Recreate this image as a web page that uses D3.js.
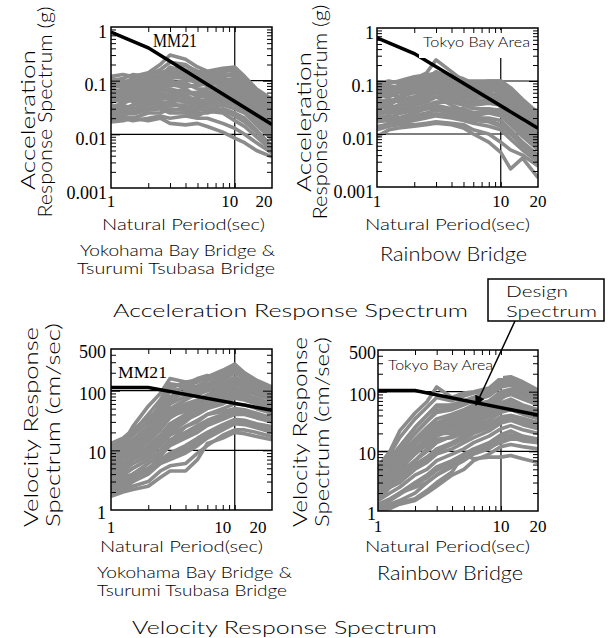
<!DOCTYPE html>
<html>
<head>
<meta charset="utf-8">
<script src="https://cdn.jsdelivr.net/npm/d3@7"></script>
<style>
body { margin: 0; background: #fff; }
</style>
</head>
<body>
<svg id="chart" width="608" height="638"></svg>
<script>
// periods (sec) shared by every recorded spectrum
var periods = [1, 1.25, 1.5, 2, 2.5, 3, 4, 5, 6, 8, 10, 12, 15, 20];

// acceleration response spectra (g), Yokohama Bay / Tsurumi Tsubasa
var accMM21 = [
  [0.12, 0.13, 0.12, 0.14, 0.2, 0.3, 0.25, 0.18, 0.15, 0.17, 0.18, 0.12, 0.07, 0.045],
  [0.1, 0.09, 0.11, 0.13, 0.16, 0.22, 0.2, 0.14, 0.12, 0.15, 0.16, 0.1, 0.06, 0.035],
  [0.08, 0.1, 0.09, 0.1, 0.12, 0.15, 0.13, 0.11, 0.1, 0.12, 0.13, 0.09, 0.055, 0.03],
  [0.07, 0.06, 0.08, 0.09, 0.1, 0.12, 0.11, 0.09, 0.1, 0.11, 0.1, 0.07, 0.045, 0.025],
  [0.06, 0.07, 0.06, 0.08, 0.09, 0.1, 0.08, 0.08, 0.09, 0.09, 0.08, 0.06, 0.04, 0.022],
  [0.05, 0.05, 0.06, 0.06, 0.07, 0.08, 0.09, 0.07, 0.07, 0.08, 0.07, 0.05, 0.035, 0.02],
  [0.045, 0.04, 0.05, 0.05, 0.06, 0.07, 0.06, 0.06, 0.06, 0.065, 0.06, 0.045, 0.03, 0.017],
  [0.04, 0.05, 0.04, 0.045, 0.05, 0.06, 0.07, 0.05, 0.05, 0.055, 0.05, 0.04, 0.027, 0.015],
  [0.035, 0.03, 0.035, 0.04, 0.045, 0.05, 0.05, 0.045, 0.04, 0.045, 0.045, 0.035, 0.022, 0.012],
  [0.03, 0.035, 0.03, 0.035, 0.04, 0.04, 0.045, 0.04, 0.035, 0.04, 0.04, 0.03, 0.02, 0.01],
  [0.025, 0.025, 0.03, 0.03, 0.03, 0.035, 0.035, 0.03, 0.03, 0.035, 0.03, 0.025, 0.015, 0.008],
  [0.02, 0.022, 0.02, 0.025, 0.025, 0.03, 0.028, 0.025, 0.025, 0.03, 0.025, 0.02, 0.012, 0.006],
  [0.018, 0.02, 0.018, 0.02, 0.022, 0.02, 0.022, 0.02, 0.02, 0.016, 0.013, 0.01, 0.007, 0.0045],
  [0.017, 0.018, 0.02, 0.018, 0.02, 0.016, 0.015, 0.016, 0.014, 0.011, 0.0085, 0.007, 0.005, 0.0038],
  [0.09, 0.08, 0.1, 0.11, 0.12, 0.13, 0.16, 0.13, 0.11, 0.14, 0.17, 0.11, 0.065, 0.045],
  [0.055, 0.065, 0.07, 0.07, 0.08, 0.09, 0.1, 0.1, 0.08, 0.1, 0.11, 0.08, 0.05, 0.028],
  [0.11, 0.1, 0.09, 0.1, 0.12, 0.18, 0.14, 0.12, 0.13, 0.13, 0.12, 0.085, 0.05, 0.03],
  [0.028, 0.03, 0.025, 0.03, 0.035, 0.028, 0.03, 0.035, 0.035, 0.04, 0.035, 0.028, 0.018, 0.009],
  [0.065, 0.055, 0.05, 0.055, 0.065, 0.065, 0.055, 0.06, 0.07, 0.07, 0.065, 0.05, 0.032, 0.018],
  [0.04, 0.045, 0.055, 0.06, 0.05, 0.045, 0.04, 0.04, 0.045, 0.05, 0.055, 0.042, 0.025, 0.014],
  [0.023, 0.028, 0.035, 0.04, 0.035, 0.04, 0.03, 0.028, 0.03, 0.028, 0.022, 0.017, 0.011, 0.0055],
  [0.075, 0.08, 0.075, 0.085, 0.1, 0.11, 0.12, 0.1, 0.09, 0.1, 0.09, 0.065, 0.04, 0.02],
  [0.1, 0.11, 0.13, 0.12, 0.14, 0.16, 0.19, 0.15, 0.14, 0.16, 0.15, 0.1, 0.06, 0.038],
  [0.085, 0.09, 0.085, 0.095, 0.11, 0.12, 0.14, 0.12, 0.12, 0.12, 0.14, 0.095, 0.058, 0.032],
  [0.05, 0.06, 0.065, 0.065, 0.075, 0.085, 0.075, 0.085, 0.085, 0.09, 0.085, 0.06, 0.038, 0.024],
  [0.032, 0.038, 0.045, 0.05, 0.055, 0.055, 0.06, 0.055, 0.055, 0.06, 0.052, 0.038, 0.024, 0.013],
  [0.026, 0.032, 0.028, 0.035, 0.045, 0.05, 0.04, 0.035, 0.04, 0.045, 0.04, 0.03, 0.019, 0.011],
  [0.02, 0.025, 0.024, 0.028, 0.03, 0.025, 0.025, 0.022, 0.027, 0.025, 0.018, 0.014, 0.009, 0.005]
];

// acceleration response spectra (g), Rainbow Bridge
var accRainbow = [
  [0.09, 0.1, 0.09, 0.11, 0.14, 0.25, 0.15, 0.1, 0.1, 0.1, 0.1, 0.07, 0.04, 0.025],
  [0.08, 0.07, 0.08, 0.1, 0.12, 0.13, 0.12, 0.09, 0.08, 0.09, 0.095, 0.065, 0.035, 0.02],
  [0.06, 0.07, 0.07, 0.08, 0.1, 0.12, 0.1, 0.08, 0.07, 0.08, 0.08, 0.05, 0.03, 0.018],
  [0.05, 0.06, 0.05, 0.07, 0.08, 0.09, 0.08, 0.07, 0.06, 0.07, 0.06, 0.04, 0.025, 0.015],
  [0.045, 0.04, 0.05, 0.06, 0.07, 0.08, 0.07, 0.06, 0.055, 0.06, 0.05, 0.035, 0.022, 0.012],
  [0.04, 0.045, 0.04, 0.05, 0.06, 0.07, 0.06, 0.05, 0.05, 0.05, 0.045, 0.03, 0.02, 0.01],
  [0.035, 0.03, 0.035, 0.04, 0.05, 0.06, 0.05, 0.045, 0.04, 0.045, 0.04, 0.028, 0.016, 0.009],
  [0.03, 0.035, 0.03, 0.035, 0.04, 0.05, 0.045, 0.04, 0.035, 0.038, 0.035, 0.022, 0.014, 0.007],
  [0.025, 0.025, 0.028, 0.03, 0.035, 0.04, 0.04, 0.035, 0.03, 0.03, 0.028, 0.018, 0.011, 0.006],
  [0.02, 0.022, 0.02, 0.025, 0.03, 0.035, 0.03, 0.03, 0.025, 0.025, 0.022, 0.015, 0.009, 0.005],
  [0.017, 0.018, 0.02, 0.022, 0.025, 0.028, 0.025, 0.022, 0.02, 0.02, 0.018, 0.012, 0.007, 0.004],
  [0.014, 0.015, 0.016, 0.018, 0.02, 0.022, 0.02, 0.018, 0.016, 0.014, 0.012, 0.008, 0.005, 0.003],
  [0.009, 0.012, 0.013, 0.014, 0.015, 0.016, 0.015, 0.013, 0.01, 0.007, 0.0045, 0.0022, 0.0035, 0.0015],
  [0.065, 0.06, 0.07, 0.09, 0.1, 0.11, 0.09, 0.085, 0.08, 0.085, 0.09, 0.06, 0.035, 0.02],
  [0.022, 0.028, 0.03, 0.035, 0.045, 0.05, 0.035, 0.028, 0.022, 0.018, 0.015, 0.01, 0.006, 0.0035],
  [0.055, 0.05, 0.06, 0.065, 0.075, 0.1, 0.085, 0.065, 0.06, 0.065, 0.07, 0.045, 0.028, 0.016],
  [0.028, 0.025, 0.025, 0.03, 0.03, 0.03, 0.028, 0.025, 0.022, 0.025, 0.03, 0.02, 0.012, 0.0065],
  [0.04, 0.035, 0.045, 0.045, 0.055, 0.065, 0.055, 0.055, 0.045, 0.04, 0.038, 0.025, 0.015, 0.008],
  [0.012, 0.014, 0.015, 0.015, 0.016, 0.017, 0.016, 0.015, 0.012, 0.01, 0.007, 0.005, 0.004, 0.0025],
  [0.07, 0.08, 0.075, 0.09, 0.11, 0.15, 0.11, 0.095, 0.09, 0.1, 0.1, 0.075, 0.045, 0.025],
  [0.075, 0.09, 0.1, 0.12, 0.13, 0.14, 0.13, 0.11, 0.09, 0.09, 0.1, 0.065, 0.04, 0.022],
  [0.05, 0.055, 0.065, 0.075, 0.09, 0.1, 0.095, 0.075, 0.07, 0.075, 0.075, 0.05, 0.03, 0.017],
  [0.032, 0.04, 0.045, 0.05, 0.065, 0.075, 0.065, 0.055, 0.05, 0.055, 0.055, 0.038, 0.024, 0.013],
  [0.018, 0.02, 0.024, 0.028, 0.03, 0.032, 0.03, 0.028, 0.025, 0.028, 0.025, 0.017, 0.01, 0.0055],
  [0.013, 0.016, 0.018, 0.02, 0.022, 0.024, 0.022, 0.02, 0.018, 0.017, 0.014, 0.01, 0.0065, 0.0038],
  [0.024, 0.03, 0.035, 0.042, 0.05, 0.058, 0.05, 0.042, 0.038, 0.04, 0.036, 0.024, 0.015, 0.0085]
];

// velocity response spectra (cm/sec), Yokohama Bay / Tsurumi Tsubasa
var velMM21 = [
  [12, 15, 20, 40, 70, 130, 120, 140, 170, 220, 280, 200, 150, 115],
  [10, 12, 18, 30, 55, 100, 110, 120, 150, 190, 230, 180, 130, 100],
  [8, 11, 15, 25, 45, 80, 90, 100, 120, 160, 200, 160, 120, 95],
  [7, 9, 12, 20, 35, 60, 80, 85, 100, 130, 170, 140, 110, 90],
  [6, 8, 10, 17, 28, 45, 60, 70, 85, 110, 140, 120, 100, 80],
  [5, 7, 9, 14, 22, 35, 50, 60, 70, 90, 110, 100, 85, 70],
  [4.5, 6, 8, 12, 18, 28, 40, 50, 60, 75, 90, 85, 75, 60],
  [4, 5, 7, 10, 15, 22, 32, 40, 50, 60, 75, 70, 60, 50],
  [3.5, 4.5, 6, 8, 12, 18, 25, 32, 40, 50, 60, 58, 50, 42],
  [3, 4, 5, 7, 10, 15, 20, 26, 32, 40, 50, 48, 42, 35],
  [2.5, 3.5, 4, 6, 8, 12, 16, 20, 26, 33, 40, 40, 35, 30],
  [2.2, 3, 3.5, 5, 7, 9, 12, 16, 20, 27, 33, 32, 28, 25],
  [2, 2.5, 3, 4, 6, 7, 9, 12, 16, 22, 28, 27, 24, 20],
  [1.8, 2.2, 2.5, 3, 4.5, 5.5, 6, 9, 12, 18, 22, 22, 20, 17],
  [1.7, 2, 2.2, 2.5, 3.5, 4.5, 4.5, 7, 13, 16, 20, 19, 17, 15],
  [13, 16, 22, 35, 50, 75, 130, 160, 180, 150, 200, 170, 140, 110],
  [9, 13, 25, 55, 90, 160, 140, 110, 100, 120, 150, 120, 100, 85],
  [5, 6, 7, 9, 13, 20, 30, 45, 60, 80, 100, 90, 70, 55],
  [3, 3, 4, 5, 6, 8, 10, 14, 18, 24, 30, 30, 25, 20],
  [6, 9, 14, 22, 30, 38, 45, 55, 70, 100, 130, 110, 90, 75],
  [2.5, 2.2, 3, 4.5, 8, 14, 25, 30, 40, 45, 50, 45, 38, 30],
  [11, 10, 12, 18, 30, 50, 70, 90, 110, 140, 160, 140, 115, 95],
  [11, 14, 18, 30, 60, 110, 140, 150, 160, 200, 250, 190, 140, 108],
  [7.5, 10, 14, 25, 40, 65, 100, 110, 130, 170, 210, 160, 125, 98],
  [5.5, 7.5, 11, 16, 25, 40, 55, 65, 80, 100, 125, 115, 95, 78],
  [4, 5.5, 8, 11, 16, 25, 35, 45, 55, 68, 80, 75, 65, 55],
  [2.8, 3.8, 5, 7, 9, 13, 18, 23, 28, 36, 45, 44, 38, 32],
  [2.1, 2.6, 3.2, 4.5, 6.5, 8, 11, 14, 18, 24, 30, 29, 26, 22]
];

// velocity response spectra (cm/sec), Rainbow Bridge
var velRainbow = [
  [5.5, 10, 22, 44, 68, 120, 80, 95, 100, 115, 170, 178, 147, 107],
  [5, 8, 12, 25, 40, 60, 60, 70, 80, 100, 140, 150, 120, 90],
  [4.5, 7, 10, 20, 32, 45, 50, 60, 70, 85, 120, 130, 100, 80],
  [4, 6, 9, 16, 25, 35, 42, 50, 60, 70, 100, 110, 90, 70],
  [3.5, 5, 7, 13, 20, 28, 35, 42, 50, 60, 80, 90, 75, 60],
  [3, 4.5, 6, 11, 16, 22, 28, 35, 40, 50, 65, 75, 60, 50],
  [2.5, 4, 5, 9, 13, 18, 23, 28, 33, 40, 55, 60, 50, 42],
  [2.2, 3.5, 4.5, 7, 10, 14, 18, 22, 27, 33, 45, 50, 42, 35],
  [2, 3, 4, 6, 8, 11, 14, 18, 22, 28, 38, 40, 35, 30],
  [1.8, 2.5, 3, 5, 6.5, 9, 11, 14, 17, 22, 30, 33, 28, 24],
  [1.5, 2, 2.5, 4, 5, 7, 9, 11, 14, 18, 24, 27, 23, 20],
  [1.3, 1.6, 2, 3, 4, 5.5, 7, 9, 11, 14, 19, 22, 18, 16],
  [1.1, 1.3, 1.5, 2, 3, 4, 5.5, 7, 9, 11, 15, 17, 15, 14],
  [1, 1.1, 1.3, 1.5, 2, 2.6, 4, 5, 7, 9, 12, 13, 12, 11],
  [1, 1.2, 1.4, 1.6, 2.2, 3, 4.5, 9, 7.5, 8, 8, 8.5, 7.5, 6.5],
  [4, 7, 12, 25, 40, 55, 60, 70, 80, 95, 130, 140, 115, 90],
  [3, 5, 8, 14, 22, 30, 30, 38, 45, 55, 75, 100, 95, 75],
  [2, 3, 5, 9, 15, 20, 20, 25, 30, 38, 50, 55, 48, 40],
  [1.5, 2.5, 4, 7, 11, 16, 17, 20, 25, 30, 35, 40, 36, 30],
  [2.8, 4, 6, 10, 18, 25, 32, 40, 48, 65, 90, 110, 95, 75],
  [1.2, 1.5, 2, 2.5, 3, 4, 6, 8, 10, 12, 14, 16, 16, 15],
  [5, 9, 17, 35, 55, 80, 70, 85, 95, 105, 155, 165, 135, 98],
  [4.2, 6.5, 11, 20, 32, 48, 55, 62, 72, 90, 125, 135, 110, 85],
  [3.2, 5, 7.5, 13, 21, 30, 38, 45, 55, 68, 90, 100, 85, 68],
  [2.4, 3.8, 5.5, 9.5, 14, 20, 25, 31, 37, 45, 60, 68, 56, 46],
  [1.7, 2.6, 3.5, 5.5, 7.5, 10, 13, 16, 20, 25, 34, 37, 31, 27],
  [1.2, 1.5, 1.9, 2.8, 3.6, 4.8, 6.5, 8.5, 10, 13, 17, 19, 17, 15]
];

// design spectra
var designPeriods = [1, 2, 20];
var designAccMM21 = [0.8, 0.41, 0.0152];
var designAccTokyo = [0.65, 0.33, 0.0128];
var designVelMM21 = [113, 113, 47];
var designVelTokyo = [105, 105, 40.5];

// tick labels
var xTicks = [1, 10, 20];
var accTicks = [1, 0.1, 0.01, 0.001];
var velTicks = [500, 100, 10, 1];

var svg = d3.select("#chart");
var sans = "Lato, 'Liberation Sans', Arial, sans-serif";
var serif = "'Liberation Serif', 'Times New Roman', serif";

function txt(parent, s, x, y, o) {
  o = o || {};
  var t = parent.append("text")
    .attr("font-family", o.family || sans)
    .attr("font-weight", o.family ? 400 : 300)
    .attr("font-size", o.size || 16)
    .attr("text-anchor", o.anchor || "start")
    .attr("fill", "#000")
    .text(s);
  if (o.rotate) {
    t.attr("transform", `translate(${x},${y}) rotate(-90)`);
  } else {
    t.attr("x", x).attr("y", y);
  }
  if (o.len) t.attr("textLength", o.len).attr("lengthAdjust", "spacingAndGlyphs");
  return t;
}

var panels = [
  { id: 1, x0: 111, x1: 272, y0: 27, y1: 188, yDomain: [0.001, 1], records: accMM21,
    design: designAccMM21, yTicks: accTicks, yGrid: [0.1, 0.01], yLabEnd: 107, yLabDy: 10.5,
    xLabY: 207, xLabDx: [0, -5, -8] },
  { id: 2, x0: 377, x1: 538, y0: 28, y1: 187, yDomain: [0.001, 1], records: accRainbow,
    design: designAccTokyo, yTicks: accTicks, yGrid: [0.1, 0.01], yLabEnd: 374, yLabDy: 10.5,
    xLabY: 207, xLabDx: [0, 0, 0], box: [419, 30, 116, 28] },
  { id: 3, x0: 111, x1: 272, y0: 349, y1: 510, yDomain: [1, 500], records: velMM21,
    design: designVelMM21, yTicks: velTicks, yGrid: [100, 10], yLabEnd: 106, yLabDy: 9,
    xLabY: 533, xLabDx: [0, -12, -14] },
  { id: 4, x0: 378, x1: 538, y0: 350, y1: 511, yDomain: [1, 500], records: velRainbow,
    design: designVelTokyo, yTicks: velTicks, yGrid: [100, 10], yLabEnd: 376, yLabDy: 9,
    xLabY: 532, xLabDx: [0, 0, 0], box: [383, 351, 120, 27] }
];

function isDecade(v) {
  var l = Math.log10(v);
  return Math.abs(l - Math.round(l)) < 1e-9;
}

panels.forEach(function(p) {
  var x = d3.scaleLog().domain([1, 20]).range([p.x0, p.x1]);
  var y = d3.scaleLog().domain(p.yDomain).range([p.y1, p.y0]);
  var g = svg.append("g");

  g.append("clipPath").attr("id", "clip" + p.id)
    .append("rect")
    .attr("x", p.x0).attr("y", p.y0)
    .attr("width", p.x1 - p.x0).attr("height", p.y1 - p.y0);

  // grid lines
  g.selectAll(".hgrid").data(p.yGrid).join("line")
    .attr("class", "hgrid")
    .attr("x1", p.x0).attr("x2", p.x1)
    .attr("y1", d => y(d)).attr("y2", d => y(d))
    .attr("stroke", "#000").attr("stroke-width", 1.2);
  g.append("line")
    .attr("x1", x(10)).attr("x2", x(10))
    .attr("y1", p.y0).attr("y2", p.y1)
    .attr("stroke", "#000").attr("stroke-width", 1.2);

  var plot = g.append("g").attr("clip-path", `url(#clip${p.id})`);
  var line = d3.line().x((d, i) => x(periods[i])).y(d => y(d));
  plot.selectAll(".rec").data(p.records).join("path")
    .attr("class", "rec")
    .attr("d", line)
    .attr("fill", "none")
    .attr("stroke", "#8c8c8c")
    .attr("stroke-width", 3.6)
    .attr("stroke-linejoin", "round");

  if (p.box) {
    g.append("rect")
      .attr("x", p.box[0]).attr("y", p.box[1])
      .attr("width", p.box[2]).attr("height", p.box[3])
      .attr("fill", "#fff");
  }

  var dline = d3.line().x((d, i) => x(designPeriods[i])).y(d => y(d));
  plot.append("path").datum(p.design)
    .attr("d", dline)
    .attr("fill", "none")
    .attr("stroke", "#000")
    .attr("stroke-width", 3.5);

  // inward ticks on all four sides
  var xMinor = x.ticks().filter(v => v > 1 && v < 20);
  var yAll = y.ticks().filter(v => v > p.yDomain[0] && v < p.yDomain[1]);
  var yMinor = yAll.filter(v => !isDecade(v));
  var yMajor = yAll.filter(v => isDecade(v));
  var sides = [
    [d3.axisBottom(x), `translate(0,${p.y1})`, xMinor, []],
    [d3.axisTop(x), `translate(0,${p.y0})`, xMinor, []],
    [d3.axisLeft(y), `translate(${p.x0},0)`, yMinor, yMajor],
    [d3.axisRight(y), `translate(${p.x1},0)`, yMinor, yMajor]
  ];
  sides.forEach(function(s) {
    g.append("g").attr("transform", s[1])
      .call(s[0].tickValues(s[2]).tickSize(-5).tickFormat(""))
      .call(a => a.select(".domain").remove());
    if (s[3].length) {
      g.append("g").attr("transform", s[1])
        .call(s[0].tickValues(s[3]).tickSize(-9).tickFormat(""))
        .call(a => a.select(".domain").remove());
    }
  });

  g.append("rect")
    .attr("x", p.x0).attr("y", p.y0)
    .attr("width", p.x1 - p.x0).attr("height", p.y1 - p.y0)
    .attr("fill", "none").attr("stroke", "#000").attr("stroke-width", 1.5);

  // tick labels
  g.selectAll(".ylab").data(p.yTicks).join("text")
    .attr("class", "ylab")
    .attr("x", p.yLabEnd).attr("y", d => y(d) + p.yLabDy)
    .attr("text-anchor", "end")
    .attr("font-family", serif).attr("font-size", 18)
    .text(d => String(d));
  g.selectAll(".xlab").data(xTicks).join("text")
    .attr("class", "xlab")
    .attr("x", (d, i) => x(d) + p.xLabDx[i]).attr("y", p.xLabY)
    .attr("text-anchor", "middle")
    .attr("font-family", serif).attr("font-size", 17)
    .text(d => String(d));
});

// axis titles and captions
txt(svg, "Natural Period(sec)", 102, 230, { size: 16, len: 163 });
txt(svg, "Natural Period(sec)", 365, 230, { size: 16, len: 165 });
txt(svg, "Natural Period(sec)", 100, 552, { size: 16, len: 163 });
txt(svg, "Natural Period(sec)", 365, 552, { size: 16, len: 165 });

txt(svg, "Acceleration", 35, 120, { size: 20, anchor: "middle", rotate: true, len: 140 });
txt(svg, "Response Spectrum (g)", 52, 112, { size: 20, anchor: "middle", rotate: true, len: 211 });
txt(svg, "Acceleration", 311, 122, { size: 20, anchor: "middle", rotate: true, len: 140 });
txt(svg, "Response Spectrum (g)", 327, 112, { size: 20, anchor: "middle", rotate: true, len: 215 });
txt(svg, "Velocity Response", 38, 427, { size: 20, anchor: "middle", rotate: true, len: 200 });
txt(svg, "Spectrum (cm/sec)", 60, 425, { size: 20, anchor: "middle", rotate: true, len: 204 });
txt(svg, "Velocity Response", 307, 432, { size: 20, anchor: "middle", rotate: true, len: 190 });
txt(svg, "Spectrum (cm/sec)", 329, 432, { size: 20, anchor: "middle", rotate: true, len: 190 });

txt(svg, "Yokohama Bay Bridge &", 80, 256, { size: 15, len: 195 });
txt(svg, "Tsurumi Tsubasa Bridge", 77, 274, { size: 15, len: 198 });
txt(svg, "Rainbow Bridge", 380, 261, { size: 19, len: 147 });
txt(svg, "Yokohama Bay Bridge &", 97, 578, { size: 15, len: 195 });
txt(svg, "Tsurumi Tsubasa Bridge", 97, 596, { size: 15, len: 190 });
txt(svg, "Rainbow Bridge", 377, 580, { size: 19, len: 146 });

txt(svg, "Acceleration Response Spectrum", 113, 317, { size: 18, len: 355 });
txt(svg, "Velocity Response Spectrum", 132, 634, { size: 18, len: 305 });

txt(svg, "MM21", 153, 47, { family: serif, size: 19, len: 44 });
txt(svg, "MM21", 118, 378, { family: serif, size: 17, len: 49 });
txt(svg, "Tokyo Bay Area", 423, 47, { size: 14, len: 107 });
txt(svg, "Tokyo Bay Area", 388, 370, { size: 14, len: 105 });

// design spectrum callout
svg.append("defs").append("marker")
  .attr("id", "arrow").attr("viewBox", "0 0 10 10")
  .attr("refX", 9).attr("refY", 5)
  .attr("markerWidth", 14).attr("markerHeight", 10)
  .attr("markerUnits", "userSpaceOnUse")
  .attr("orient", "auto")
  .append("path").attr("d", "M0,0 L10,5 L0,10 z").attr("fill", "#000");
svg.append("line")
  .attr("x1", 515).attr("y1", 321).attr("x2", 476).attr("y2", 405)
  .attr("stroke", "#000").attr("stroke-width", 1.5)
  .attr("marker-end", "url(#arrow)");
svg.append("rect")
  .attr("x", 488).attr("y", 279).attr("width", 116).attr("height", 42)
  .attr("fill", "#fff").attr("stroke", "#000").attr("stroke-width", 1.5);
txt(svg, "Design", 506, 297, { size: 16, len: 62 });
txt(svg, "Spectrum", 506, 317, { size: 16, len: 91 });
</script>
</body>
</html>
